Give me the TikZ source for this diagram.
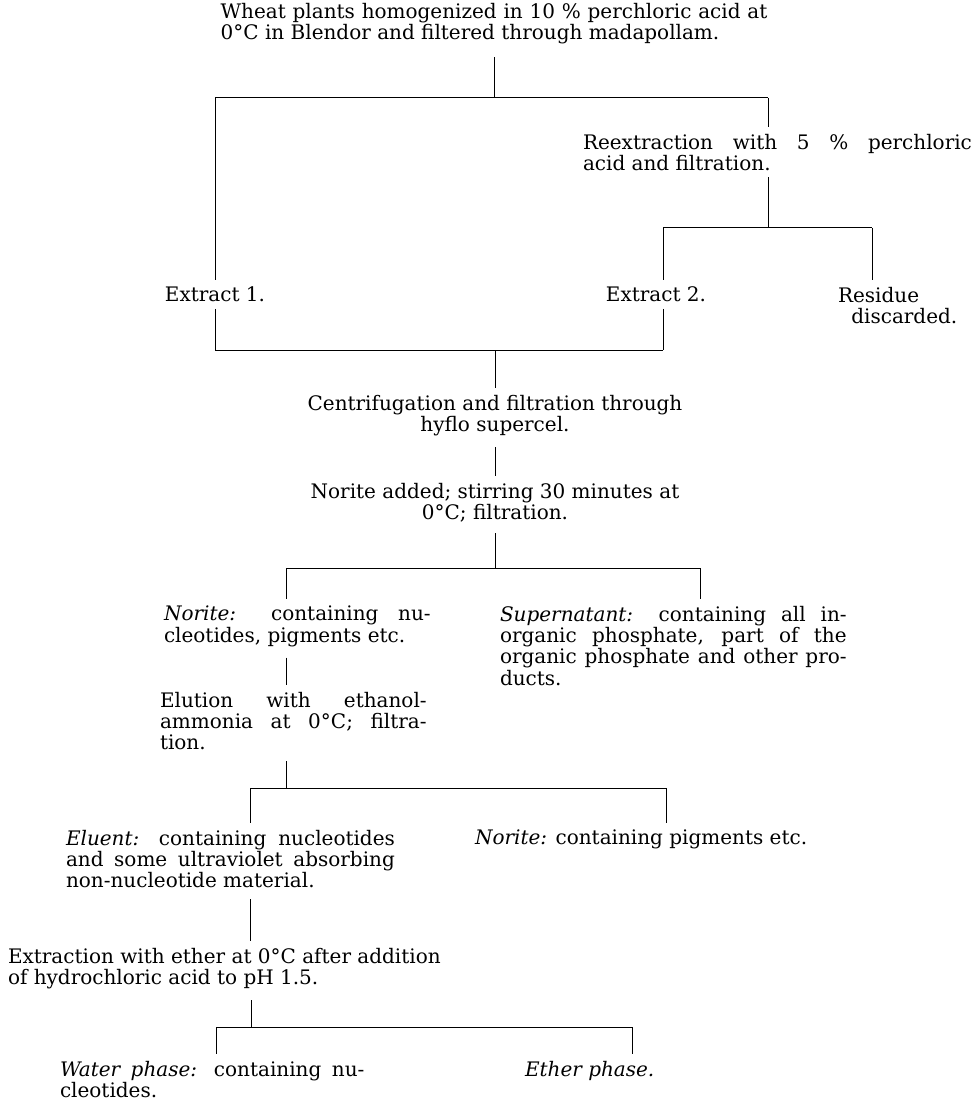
\documentclass[tikz,border=0pt]{standalone}
\usepackage{fontspec}
\setmainfont{DejaVu Serif}
\usepackage{tikz}

\newcommand{\flowfont}{\fontsize{9}{9.6}\selectfont\lineskiplimit=-6pt\relax
  \hyphenpenalty=10000\relax\exhyphenpenalty=10000\relax}

\tikzset{
  txt/.style={inner sep=0pt, outer sep=0pt, font=\flowfont},
  jtxt/.style={txt, align=justify, text width=#1},
  wire/.style={line width=0.45pt},
}

\begin{document}
\begin{tikzpicture}[x=0.45pt, y=-0.45pt]
    \useasboundingbox (0,0) rectangle (978,1103);

    % texts
    \node[jtxt=246pt, anchor=north] (wheat) at (494,3) {\parfillskip=0pt Wheat plants homogenized in 10 \% perchloric acid at\linebreak 0°C in Blendor and filtered through madapollam.};
    \node[jtxt=175pt, anchor=north west] (reex) at (583,134) {Reextraction with 5 \% perchloric\linebreak acid and filtration.};
    \node[txt, anchor=north] (ext1) at (215,287) {Extract 1.};
    \node[txt, anchor=north] (ext2) at (656,287) {Extract 2.};
    \node[txt, anchor=north west, align=left] (resid) at (838,287) {Residue\\\hspace*{6pt}discarded.};
    \node[txt, anchor=north, align=center] (centr) at (495,395) {Centrifugation and filtration through\\hyflo supercel.};
    \node[txt, anchor=north, align=center] (norad) at (495,483) {Norite added; stirring 30 minutes at\\0°C; filtration.};
    \node[jtxt=120pt, anchor=north west] (noritec) at (164,606) {\textit{Norite:} containing nu-\linebreak cleotides, pigments etc.};
    \node[jtxt=156pt, anchor=north west] (super) at (500,606) {\textit{Supernatant:} containing all in-\linebreak organic phosphate, part of the\linebreak organic phosphate and other pro-\linebreak ducts.};
    \node[jtxt=120pt, anchor=north west] (elut) at (160,692) {Elution with ethanol-\linebreak ammonia at 0°C; filtra-\linebreak tion.};
    \node[jtxt=148pt, anchor=north west] (eluent) at (66,830) {\textit{Eluent:} containing nucleotides\linebreak and some ultraviolet absorbing\linebreak non-nucleotide material.};
    \node[txt, anchor=north west] (noritep) at (475,830) {\textit{Norite:} containing pigments etc.};
    \node[txt, anchor=north west, align=left] (extr) at (8,948) {Extraction with ether at 0°C after addition\\of hydrochloric acid to pH 1.5.};
    \node[jtxt=137pt, anchor=north west] (water) at (60,1061) {\textit{Water phase:} containing nu-\linebreak cleotides.};
    \node[txt, anchor=north west] (ether) at (525,1061) {\textit{Ether phase.}};

    % first split
    \coordinate (b1l) at (215,98);
    \coordinate (b1m) at (494,98);
    \coordinate (b1r) at (768,98);
    \draw[wire] (b1l) -- (b1r);
    \draw[wire, shorten <=6pt] (wheat.south) -- (b1m);
    \draw[wire, shorten >=3pt] (b1l) -- (ext1.north);
    \draw[wire, shorten >=3pt] (b1r) -- (b1r |- reex.north);

    \coordinate (b2l) at (663,228);
    \coordinate (b2m) at (768,228);
    \coordinate (b2r) at (872,228);
    \draw[wire] (b2l) -- (b2r);
    \draw[wire, shorten <=3pt] (b2m |- reex.south) -- (b2m);
    \draw[wire, shorten >=3pt] (b2l) -- (b2l |- ext2.north);
    \draw[wire, shorten >=3pt] (b2r) -- (b2r |- resid.north);

    % extracts joined
    \coordinate (b3l) at (215,350);
    \coordinate (b3m) at (495,350);
    \coordinate (b3r) at (663,350);
    \draw[wire] (b3l) -- (b3r);
    \draw[wire, shorten <=3pt] (ext1.south) -- (b3l);
    \draw[wire, shorten <=3pt] (b3r |- ext2.south) -- (b3r);
    \draw[wire, shorten >=3pt] (b3m) -- (centr.north);
    \draw[wire, shorten <=5pt, shorten >=3pt] (centr.south) -- (norad.north);

    % norite
    \coordinate (b4l) at (286,568);
    \coordinate (b4m) at (495,568);
    \coordinate (b4r) at (700,568);
    \draw[wire] (b4l) -- (b4r);
    \draw[wire, shorten <=5pt] (norad.south) -- (b4m);
    \draw[wire, shorten >=3pt] (b4l) -- (b4l |- noritec.north);
    \draw[wire, shorten >=3pt] (b4r) -- (b4r |- super.north);
    \draw[wire, shorten <=5pt, shorten >=3pt] (b4l |- noritec.south) -- (b4l |- elut.north);

    % elution
    \coordinate (b5l) at (250,788);
    \coordinate (b5m) at (286,788);
    \coordinate (b5r) at (666,788);
    \draw[wire] (b5l) -- (b5r);
    \draw[wire, shorten <=5pt] (b5m |- elut.south) -- (b5m);
    \draw[wire, shorten >=3pt] (b5l) -- (b5l |- eluent.north);
    \draw[wire, shorten >=3pt] (b5r) -- (b5r |- noritep.north);
    \draw[wire, shorten <=5pt, shorten >=3pt] (b5l |- eluent.south) -- (b5l |- extr.north);

    % ether extraction
    \coordinate (b6l) at (216,1027);
    \coordinate (b6m) at (251,1027);
    \coordinate (b6r) at (632,1027);
    \draw[wire] (b6l) -- (b6r);
    \draw[wire, shorten <=5pt] (b6m |- extr.south) -- (b6m);
    \draw[wire, shorten >=3pt] (b6l) -- (b6l |- water.north);
    \draw[wire, shorten >=3pt] (b6r) -- (b6r |- ether.north);
\end{tikzpicture}
\end{document}
